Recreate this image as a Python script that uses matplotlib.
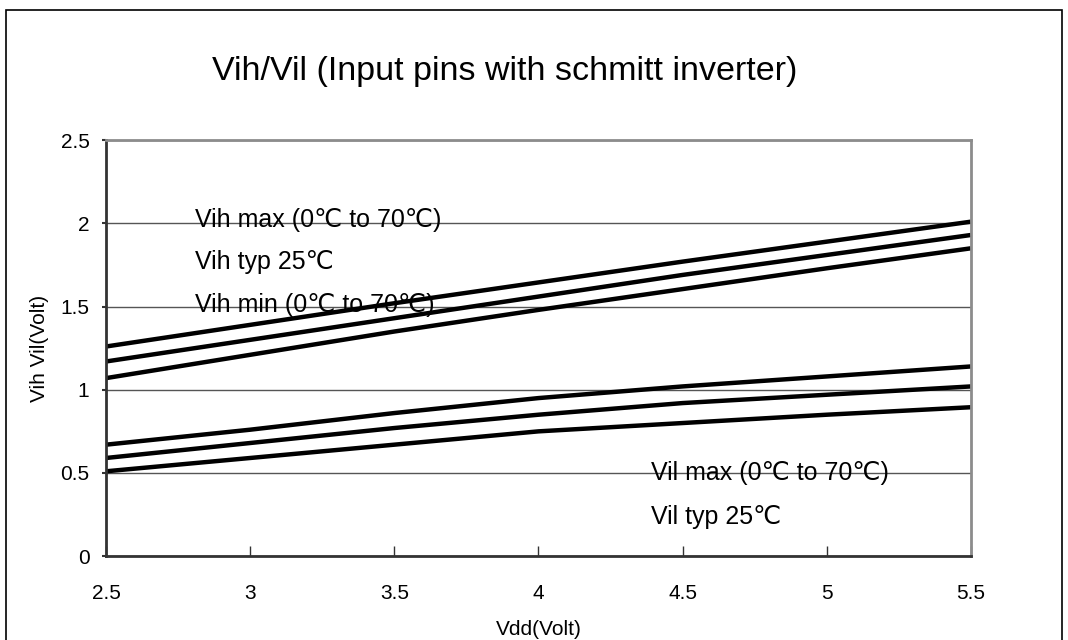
import matplotlib.pyplot as plt
from matplotlib.patches import Rectangle

plt.rcParams['font.family'] = ['Liberation Sans', 'DejaVu Sans']

vdd = [2.5, 3.0, 3.5, 4.0, 4.5, 5.0, 5.5]
vih_max = [1.26, 1.39, 1.52, 1.645, 1.77, 1.89, 2.01]
vih_typ = [1.17, 1.30, 1.43, 1.56, 1.69, 1.81, 1.93]
vih_min = [1.07, 1.21, 1.35, 1.48, 1.605, 1.73, 1.85]
vil_max = [0.67, 0.76, 0.86, 0.95, 1.02, 1.08, 1.14]
vil_typ = [0.59, 0.68, 0.77, 0.85, 0.92, 0.97, 1.02]
vil_min = [0.51, 0.59, 0.67, 0.75, 0.80, 0.85, 0.895]

labels = ['Vih max (0\u2103 to 70\u2103)', 'Vih typ 25\u2103', 'Vih min (0\u2103 to 70\u2103)',
          'Vil max (0\u2103 to 70\u2103)', 'Vil typ 25\u2103']
label_x = [2.81, 2.81, 2.81, 4.39, 4.39]
label_y = [2.02, 1.77, 1.51, 0.50, 0.235]

fig = plt.figure(figsize=(10.68, 6.4), dpi=100)
ax = fig.add_axes([0.0993, 0.131, 0.8097, 0.65])

# outer frame
fig.patches.append(Rectangle((6 / 1068, -0.05), 1056 / 1068, 1 - 10 / 640 + 0.05,
                             transform=fig.transFigure, fill=False, edgecolor='black', linewidth=1.2))

ax.set_axisbelow(True)
ax.grid(axis='y', color='#555555', linewidth=1.0)
for s in [vih_max, vih_typ, vih_min, vil_max, vil_typ, vil_min]:
    ax.plot(vdd, s, color='black', linewidth=3.2, solid_capstyle='butt')

for t, x, y in zip(labels, label_x, label_y):
    ax.text(x, y, t, fontsize=18, va='center', ha='left', color='black')

ax.set_xlim(2.5, 5.5)
ax.set_ylim(0, 2.5)
ax.set_xticks([2.5, 3, 3.5, 4, 4.5, 5, 5.5])
ax.set_xticklabels(['2.5', '3', '3.5', '4', '4.5', '5', '5.5'])
ax.set_yticks([0, 0.5, 1, 1.5, 2, 2.5])
ax.set_yticklabels(['0', '0.5', '1', '1.5', '2', '2.5'])
ax.tick_params(axis='x', direction='in', length=7, width=1, pad=20, labelsize=15, color='#333333')
ax.tick_params(axis='y', direction='out', length=3, width=1.5, pad=9, labelsize=15, color='#333333')

ax.spines['left'].set_color('#333333')
ax.spines['bottom'].set_color('#333333')
ax.spines['top'].set_color('#8c8c8c')
ax.spines['right'].set_color('#8c8c8c')
for sp in ax.spines.values():
    sp.set_linewidth(2)

ax.set_xlabel('Vdd(Volt)', fontsize=15, labelpad=12)
ax.set_ylabel('Vih Vil(Volt)', fontsize=15, labelpad=8)

fig.text(0.473, 0.888, 'Vih/Vil (Input pins with schmitt inverter)', fontsize=24.5,
         ha='center', va='center')

fig.savefig('out.png', dpi=100)
